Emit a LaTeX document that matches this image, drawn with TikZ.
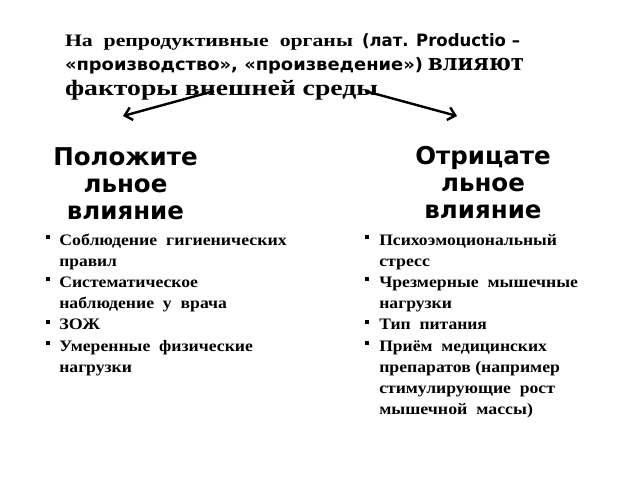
\documentclass[tikz,border=0pt]{standalone}
\usepackage{fontspec}
\usepackage{graphicx}
\setmainfont{Liberation Serif}
\newfontfamily\hsans{DejaVu Sans}
\newfontfamily\hslab{DejaVu Serif}
\usetikzlibrary{arrows.meta}
\newcommand{\fitwd}[2]{\resizebox{#1pt}{\height}{#2}}
\begin{document}
\begin{tikzpicture}[x=1pt,y=-1pt,
  txt/.style={anchor=base west, inner sep=0pt, outer sep=0pt},
  ttlserif/.style={txt, font=\fontsize{17.5}{20}\selectfont\bfseries},
  ttlsans/.style={txt, font=\fontsize{17}{20}\hsans\bfseries},
  ttlslab/.style={txt, font=\fontsize{23}{26}\hslab\bfseries},
  ttlbig/.style={txt, font=\fontsize{22}{26}\selectfont\bfseries},
  hd/.style={anchor=base, inner sep=0pt, font=\fontsize{24.5}{29}\hsans\bfseries},
  li/.style={txt, font=\fontsize{16}{19}\selectfont\bfseries},
  bul/.style={rectangle, fill=black, minimum size=4pt, inner sep=0pt},
  arr/.style={line width=2.4pt, -{Straight Barb[length=7pt,width=13pt]}}]
\useasboundingbox (0,0) rectangle (640,480);
\fill[white] (0,0) rectangle (640,480);

% title
\node[ttlserif] (t1a) at (65,46) {\fitwd{288}{На\ \ репродуктивные\ \ органы}};
\node[ttlsans]  (t1b) at (362,46) {\fitwd{158}{(лат. Productio –}};
\node[ttlsans]  (t2a) at (65,70) {\fitwd{358}{«производство», «произведение»)}};
\node[ttlslab]  (t2b) at (428,70) {\fitwd{96}{влияют}};
\node[ttlbig]   (t3)  at (65,95.5) {\fitwd{313}{факторы внешней среды}};

% arrows
\coordinate (s1) at (214,91);
\coordinate (e1) at (123,116);
\coordinate (s2) at (365,91);
\coordinate (e2) at (457,116);
\draw[arr] (s1) -- (e1);
\draw[arr] (s2) -- (e2);

% headings
\node[hd] (h1a) at (125.5,165) {Положите};
\node[hd] (h1b) at (125.5,192) {льное};
\node[hd] (h1c) at (125.5,219.5) {влияние};
\node[hd] (h2a) at (483,164) {Отрицате};
\node[hd] (h2b) at (483,191) {льное};
\node[hd] (h2c) at (483,218.5) {влияние};

% left list
\node[li] (l1) at (59.3,245)   {\fitwd{227.4}{Соблюдение\ \ гигиенических}};
\node[li] (l2) at (59.3,266.2) {\fitwd{57.7}{правил}};
\node[li] (l3) at (59.3,287.4) {\fitwd{138.7}{Систематическое}};
\node[li] (l4) at (59.3,308.6) {\fitwd{167.7}{наблюдение\ \ у\ \ врача}};
\node[li] (l5) at (59.3,329.8) {\fitwd{40.7}{ЗОЖ}};
\node[li] (l6) at (59.3,351)   {\fitwd{193.7}{Умеренные\ \ физические}};
\node[li] (l7) at (59.3,372.2) {\fitwd{72.7}{нагрузки}};
\node[bul] (b1) at (47.8,237) {};
\node[bul] (b2) at (47.8,279.4) {};
\node[bul] (b3) at (47.8,321.8) {};
\node[bul] (b4) at (47.8,343) {};

% right list
\node[li] (r1) at (379.3,245)   {\fitwd{177.7}{Психоэмоциональный}};
\node[li] (r2) at (379.3,266.2) {\fitwd{50.7}{стресс}};
\node[li] (r3) at (379.3,287.4) {\fitwd{198.7}{Чрезмерные\ \ мышечные}};
\node[li] (r4) at (379.3,308.6) {\fitwd{72.7}{нагрузки}};
\node[li] (r5) at (379.3,329.8) {\fitwd{107.7}{Тип\ \ питания}};
\node[li] (r6) at (379.3,351)   {\fitwd{167.7}{Приём\ \ медицинских}};
\node[li] (r7) at (379.3,372.2) {\fitwd{180.7}{препаратов (например}};
\node[li] (r8) at (379.3,393.4) {\fitwd{175.7}{стимулирующие\ \ рост}};
\node[li] (r9) at (379.3,414.6) {\fitwd{153.7}{мышечной\ \ массы)}};
\node[bul] (c1) at (367,237) {};
\node[bul] (c2) at (367,279.4) {};
\node[bul] (c3) at (367,321.8) {};
\node[bul] (c4) at (367,343) {};
\end{tikzpicture}
\end{document}
